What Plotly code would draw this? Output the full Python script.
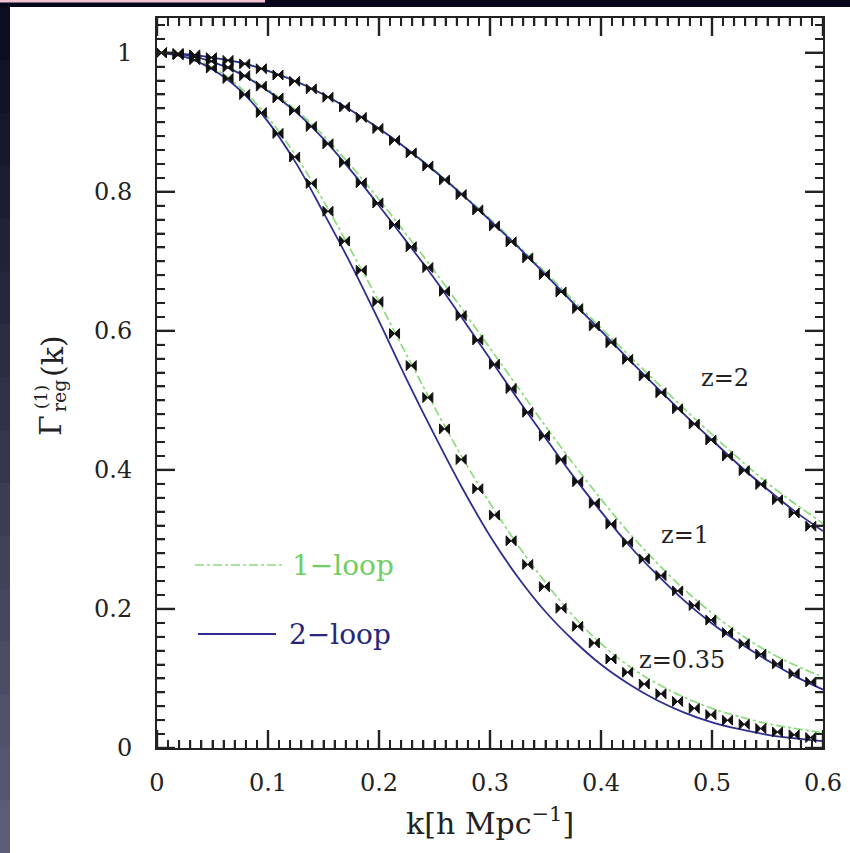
import plotly.graph_objects as go

# ---------------- data ----------------
k_sim = [0.004, 0.019, 0.034, 0.049, 0.064, 0.079, 0.094, 0.109, 0.124, 0.139,
         0.154, 0.169, 0.184, 0.199, 0.214, 0.229, 0.244, 0.259, 0.274, 0.289,
         0.304, 0.319, 0.334, 0.349, 0.364, 0.379, 0.394, 0.409, 0.424, 0.439,
         0.454, 0.469, 0.484, 0.499, 0.514, 0.529, 0.544, 0.559, 0.574, 0.589]

sim_z2 = [1.000, 0.999, 0.997, 0.993, 0.989, 0.984, 0.977, 0.968, 0.959, 0.948,
          0.936, 0.922, 0.907, 0.891, 0.874, 0.856, 0.837, 0.817, 0.796, 0.774,
          0.751, 0.728, 0.705, 0.681, 0.656, 0.632, 0.607, 0.583, 0.559, 0.535,
          0.511, 0.488, 0.466, 0.443, 0.420, 0.399, 0.379, 0.357, 0.338, 0.319]

sim_z1 = [1.000, 0.998, 0.994, 0.988, 0.979, 0.967, 0.952, 0.935, 0.917, 0.894,
          0.869, 0.842, 0.813, 0.784, 0.753, 0.721, 0.691, 0.657, 0.622, 0.587,
          0.552, 0.517, 0.483, 0.449, 0.415, 0.383, 0.352, 0.322, 0.296, 0.272,
          0.248, 0.226, 0.205, 0.184, 0.166, 0.150, 0.135, 0.121, 0.107, 0.095]

sim_z035 = [1.000, 0.997, 0.990, 0.978, 0.963, 0.940, 0.914, 0.884, 0.850, 0.812,
            0.772, 0.729, 0.687, 0.642, 0.596, 0.550, 0.504, 0.459, 0.415, 0.373,
            0.335, 0.298, 0.264, 0.232, 0.201, 0.175, 0.151, 0.128, 0.109, 0.092,
            0.078, 0.067, 0.057, 0.048, 0.040, 0.034, 0.028, 0.023, 0.019, 0.015]

k_line = [0.0, 0.025, 0.05, 0.075, 0.1, 0.125, 0.15, 0.175, 0.2, 0.225, 0.25,
          0.275, 0.3, 0.325, 0.35, 0.375, 0.4, 0.425, 0.45, 0.475, 0.5, 0.525,
          0.55, 0.575, 0.6]

two_loop_z2 = [1.0, 0.998, 0.993, 0.986, 0.974, 0.959, 0.940, 0.917, 0.891, 0.862,
               0.830, 0.796, 0.759, 0.721, 0.681, 0.640, 0.600, 0.559, 0.519, 0.480,
               0.443, 0.406, 0.372, 0.340, 0.312]
one_loop_z2 = [1.0, 0.998, 0.993, 0.986, 0.974, 0.959, 0.940, 0.917, 0.891, 0.862,
               0.831, 0.797, 0.761, 0.723, 0.684, 0.644, 0.604, 0.565, 0.526, 0.488,
               0.451, 0.415, 0.381, 0.351, 0.323]

two_loop_z1 = [1.0, 0.997, 0.987, 0.970, 0.945, 0.915, 0.876, 0.830, 0.780, 0.728,
               0.675, 0.618, 0.560, 0.502, 0.446, 0.391, 0.340, 0.292, 0.250, 0.212,
               0.179, 0.151, 0.126, 0.103, 0.084]
one_loop_z1 = [1.0, 0.997, 0.987, 0.971, 0.947, 0.918, 0.881, 0.837, 0.789, 0.738,
               0.686, 0.631, 0.575, 0.519, 0.463, 0.409, 0.358, 0.310, 0.267, 0.228,
               0.194, 0.164, 0.139, 0.119, 0.102]

two_loop_z035 = [1.0, 0.994, 0.976, 0.946, 0.901, 0.842, 0.770, 0.695, 0.614, 0.530,
                 0.450, 0.374, 0.305, 0.246, 0.196, 0.155, 0.120, 0.092, 0.069, 0.051,
                 0.037, 0.027, 0.019, 0.014, 0.010]
one_loop_z035 = [1.0, 0.995, 0.979, 0.950, 0.907, 0.852, 0.787, 0.715, 0.642, 0.565,
                 0.490, 0.418, 0.352, 0.292, 0.238, 0.190, 0.150, 0.118, 0.093, 0.073,
                 0.057, 0.045, 0.035, 0.028, 0.022]

z_labels = ["z=2", "z=1", "z=0.35"]
legend_labels = ["1\u2212loop", "2\u2212loop"]

# ---------------- style ----------------
W, H = 850, 853
L, R, T, B = 157, 823, 18, 748
PW, PH = R - L, B - T
BLUE = "#2e2e8f"
GREEN = "#8cdc7c"
FONT = "DejaVu Serif"
AX = "#222222"
X_MAX, Y_MAX = 0.6, 1.05


def px(x):
    return (x - L) / PW


def py(y):
    return (B - y) / PH


fig = go.Figure()

for yv in [one_loop_z2, one_loop_z1, one_loop_z035]:
    fig.add_trace(go.Scatter(x=k_line, y=yv, mode="lines", line_shape="spline",
                             line=dict(color=GREEN, width=1.7, dash="dashdot"),
                             showlegend=False, hoverinfo="skip"))
for yv in [two_loop_z2, two_loop_z1, two_loop_z035]:
    fig.add_trace(go.Scatter(x=k_line, y=yv, mode="lines", line_shape="spline",
                             line=dict(color=BLUE, width=1.8),
                             showlegend=False, hoverinfo="skip"))
for yv in [sim_z2, sim_z1, sim_z035]:
    fig.add_trace(go.Scatter(x=k_sim, y=yv, mode="markers",
                             marker=dict(symbol="bowtie", size=10, color="#111111",
                                         line=dict(color="#111111", width=1)),
                             showlegend=False))

# ---- tick marks (inside, on all four sides) as line segments in axis units ----
MAJ_PX, MIN_PX = 18, 8
xt_maj = MAJ_PX / PH * Y_MAX
xt_min = MIN_PX / PH * Y_MAX
yt_maj = MAJ_PX / PW * X_MAX
yt_min = MIN_PX / PW * X_MAX
maj_x, maj_y, min_x, min_y = [], [], [], []
for i in range(61):
    xv = i / 100
    if i % 10 == 0:
        maj_x.extend([xv, xv, None, xv, xv, None])
        maj_y.extend([0, xt_maj, None, Y_MAX, Y_MAX - xt_maj, None])
    else:
        min_x.extend([xv, xv, None, xv, xv, None])
        min_y.extend([0, xt_min, None, Y_MAX, Y_MAX - xt_min, None])
for i in range(53):
    yv = i / 50
    if yv > Y_MAX:
        break
    if i % 10 == 0:
        maj_x.extend([0, yt_maj, None, X_MAX, X_MAX - yt_maj, None])
        maj_y.extend([yv, yv, None, yv, yv, None])
    else:
        min_x.extend([0, yt_min, None, X_MAX, X_MAX - yt_min, None])
        min_y.extend([yv, yv, None, yv, yv, None])
fig.add_trace(go.Scatter(x=maj_x, y=maj_y, mode="lines", showlegend=False,
                         hoverinfo="skip", connectgaps=False,
                         line=dict(color=AX, width=2.4)))
fig.add_trace(go.Scatter(x=min_x, y=min_y, mode="lines", showlegend=False,
                         hoverinfo="skip", connectgaps=False,
                         line=dict(color=AX, width=1.8)))

# native inside ticks too (same positions)
fig.update_xaxes(range=[0, X_MAX], dtick=0.1, showline=True, linecolor=AX, linewidth=2,
                 mirror="ticks", ticks="inside", ticklen=18, tickwidth=2, tickcolor=AX,
                 minor=dict(ticks="inside", ticklen=8, dtick=0.01, tickcolor=AX),
                 showgrid=False, zeroline=False, ticklabelstandoff=12,
                 tickfont=dict(family=FONT, size=24, color="#222222"))
fig.update_yaxes(range=[0, Y_MAX], dtick=0.2, showline=True, linecolor=AX, linewidth=2,
                 mirror="ticks", ticks="inside", ticklen=18, tickwidth=2, tickcolor=AX,
                 minor=dict(ticks="inside", ticklen=8, dtick=0.02, tickcolor=AX),
                 showgrid=False, zeroline=False, ticklabelstandoff=18,
                 tickfont=dict(family=FONT, size=24, color="#222222"))

shapes = []
# dark frame (top strip + left gradient strip)
shapes.append(dict(type="rect", xref="paper", yref="paper", x0=px(0), x1=px(W),
                   y0=py(7), y1=py(0), fillcolor="#06071c", line_width=0))
shapes.append(dict(type="rect", xref="paper", yref="paper", x0=px(0), x1=px(265),
                   y0=py(2.5), y1=py(0), fillcolor="#f3c4d4", line_width=0))
nb = 16
for i in range(nb):
    y0 = 7 + (H - 7) * i / nb
    y1 = 7 + (H - 7) * (i + 1) / nb
    t = i / (nb - 1)
    r = int(12 + t * (92 - 12))
    g = int(12 + t * (92 - 12))
    b = int(34 + t * (118 - 34))
    shapes.append(dict(type="rect", xref="paper", yref="paper", x0=px(0), x1=px(10),
                       y0=py(y1 + 1), y1=py(y0), fillcolor=f"rgb({r},{g},{b})",
                       line_width=0))
# legend line samples
shapes.append(dict(type="line", xref="paper", yref="paper", x0=px(195), x1=px(282),
                   y0=py(565), y1=py(565), line=dict(color=GREEN, width=1.7, dash="dashdot")))
shapes.append(dict(type="line", xref="paper", yref="paper", x0=px(198), x1=px(276),
                   y0=py(634), y1=py(634), line=dict(color=BLUE, width=1.8)))

ann = []
ann.append(dict(text=legend_labels[0], x=px(290), y=py(565), xanchor="left", yanchor="middle",
                font=dict(family=FONT, size=28, color="#6fcf63")))
ann.append(dict(text=legend_labels[1], x=px(287), y=py(634), xanchor="left", yanchor="middle",
                font=dict(family=FONT, size=28, color="#26267e")))
for lab, (cx, cy) in zip(z_labels, [(725, 378), (685, 535), (682, 660)]):
    ann.append(dict(text=lab, x=px(cx), y=py(cy), xanchor="center", yanchor="middle",
                    font=dict(family=FONT, size=24, color="#222222")))
# x-axis title
ann.append(dict(text="k[h Mpc<sup>\u22121</sup>]", x=px(490), y=py(822), xanchor="center",
                yanchor="middle", font=dict(family=FONT, size=30, color="#222222")))
# y-axis title, stacked super/subscript
ann.append(dict(text="\u0393", x=px(51), y=py(426), textangle=-90, xanchor="center",
                yanchor="middle", font=dict(family=FONT, size=30, color="#222222")))
ann.append(dict(text="(1)", x=px(41), y=py(397), textangle=-90, xanchor="center",
                yanchor="middle", font=dict(family=FONT, size=17, color="#222222")))
ann.append(dict(text="reg", x=px(59), y=py(396), textangle=-90, xanchor="center",
                yanchor="middle", font=dict(family=FONT, size=19, color="#222222")))
ann.append(dict(text="(k)", x=px(52), y=py(356), textangle=-90, xanchor="center",
                yanchor="middle", font=dict(family=FONT, size=30, color="#222222")))
for a in ann:
    a.update(xref="paper", yref="paper", showarrow=False)

fig.update_layout(width=W, height=H,
                  margin=dict(l=L, r=W - R, t=T, b=H - B, autoexpand=False),
                  paper_bgcolor="white", plot_bgcolor="white",
                  shapes=shapes, annotations=ann, showlegend=False)

fig.write_html("out.html")
